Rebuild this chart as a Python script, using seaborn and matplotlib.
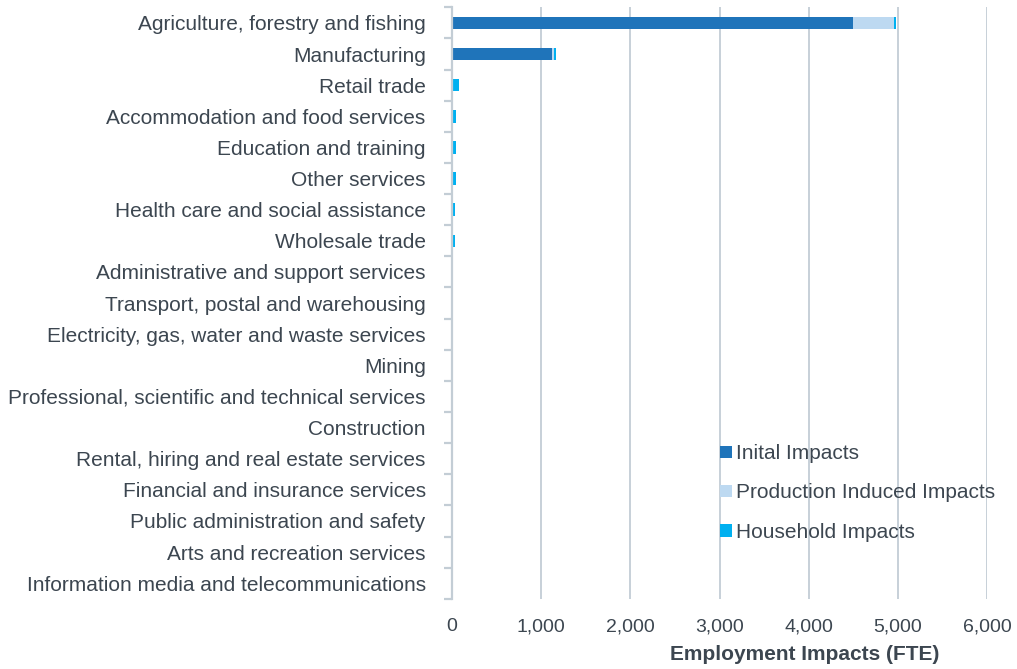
import matplotlib
matplotlib.use("Agg")
import matplotlib.pyplot as plt
import matplotlib.ticker as mticker
from matplotlib.patches import Patch
import seaborn as sns
import pandas as pd
import numpy as np

categories = [
    "Agriculture, forestry and fishing",
    "Manufacturing",
    "Retail trade",
    "Accommodation and food services",
    "Education and training",
    "Other services",
    "Health care and social assistance",
    "Wholesale trade",
    "Administrative and support services",
    "Transport, postal and warehousing",
    "Electricity, gas, water and waste services",
    "Mining",
    "Professional, scientific and technical services",
    "Construction",
    "Rental, hiring and real estate services",
    "Financial and insurance services",
    "Public administration and safety",
    "Arts and recreation services",
    "Information media and telecommunications",
]
initial = [4500, 1125, 0, 0, 0, 0, 0, 0, 0, 0, 0, 0, 0, 0, 0, 0, 0, 0, 0]
production = [455, 15, 4, 4, 3, 3, 2, 3, 2, 2, 8, 2, 2, 1, 1, 1, 0, 0, 0]
household = [24, 25, 74, 38, 36, 36, 26, 25, 9, 9, 1, 1, 1, 1, 1, 1, 1, 1, 1]
series_names = ["Inital Impacts", "Production Induced Impacts", "Household Impacts"]
colors = ["#1F74BA", "#BDD9F1", "#00B0F0"]
xticks = [0, 1000, 2000, 3000, 4000, 5000, 6000]

sns.set_style("white")
plt.rcParams["font.family"] = ["Liberation Sans", "DejaVu Sans"]
text_color = "#3C4650"
grid_color = "#C3CDD5"

df = pd.DataFrame({"cat": categories, "init": initial, "prod": production, "hh": household})
df["c1"] = df["init"]
df["c2"] = df["init"] + df["prod"]
df["c3"] = df["c2"] + df["hh"]

fig = plt.figure(figsize=(10.17, 6.69), dpi=100)
ax = fig.add_axes([0.4445, 0.105, 0.9705 - 0.4445, 0.989 - 0.105])

bw = 0.40
for col, c in zip(["c3", "c2", "c1"], [colors[2], colors[1], colors[0]]):
    sns.barplot(data=df, x=col, y="cat", orient="h", color=c, width=bw, ax=ax,
                saturation=1, order=categories, linewidth=0, edgecolor="none")

ax.set_xlim(0, 6000)
ax.set_ylim(len(categories) - 0.5, -0.5)
ax.set_xticks(xticks)
ax.xaxis.set_major_formatter(mticker.FuncFormatter(lambda v, p: f"{int(v):,}"))
ax.grid(axis="x", color=grid_color, linewidth=1.3)
ax.set_axisbelow(True)
for s in ["top", "right", "bottom"]:
    ax.spines[s].set_visible(False)
ax.spines["left"].set_color(grid_color)
ax.spines["left"].set_linewidth(1.6)

ax.tick_params(axis="x", length=0, pad=14, labelsize=14, labelcolor=text_color)
ax.tick_params(axis="y", which="major", left=False, length=0, pad=19, labelsize=15,
               labelcolor=text_color)
ax.set_yticks(np.arange(-0.5, len(categories), 1.0), minor=True)
ax.tick_params(axis="y", which="minor", left=True, length=6, color=grid_color, width=1.6)

ax.set_ylabel("")
ax.set_xlabel("Employment Impacts (FTE)", fontsize=15, fontweight="bold", color=text_color)
ax.xaxis.set_label_coords(0.66, -0.078)

handles = [Patch(facecolor=c, edgecolor="none") for c in colors]
leg = ax.legend(handles, series_names, loc="upper left", bbox_to_anchor=(0.466, 0.293),
                frameon=False, fontsize=15, handlelength=0.55, handleheight=0.55,
                handletextpad=0.2, labelspacing=0.97, labelcolor=text_color)

fig.savefig("out.png", dpi=100)
